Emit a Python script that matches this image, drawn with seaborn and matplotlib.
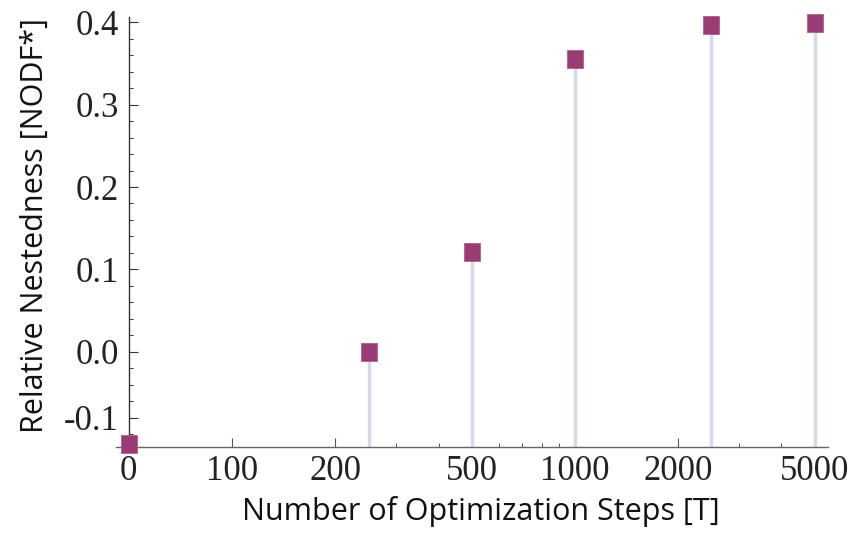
import numpy as np
import pandas as pd
import matplotlib
matplotlib.use("Agg")
import matplotlib.pyplot as plt
import seaborn as sns

# Optimization steps (the "0" run is drawn at 50 so it sits on the log axis)
steps = [50, 250, 500, 1000, 2500, 5000]
nestedness = [-0.1118, -0.0006, 0.121, 0.355, 0.3973, 0.3990]

x_ticks = [50, 100, 200, 500, 1000, 2000, 5000]
x_tick_labels = ["0", "100", "200", "500", "1000", "2000", "5000"]
x_minor = [300, 400, 600, 700, 800, 900, 3000, 4000]

y_ticks = [-0.08, 0.0, 0.1, 0.2, 0.3, 0.4]
y_tick_labels = ["-0.1", "0.0", "0.1", "0.2", "0.3", "0.4"]
y_minor = [-0.10, -0.06, -0.04, -0.02, 0.02, 0.04, 0.06, 0.08,
           0.12, 0.14, 0.16, 0.18, 0.22, 0.24, 0.26, 0.28,
           0.32, 0.34, 0.36, 0.38]

df = pd.DataFrame({"steps": steps, "nestedness": nestedness})

sns.set_theme(style="ticks")
plt.rcParams["font.family"] = ["DejaVu Sans"]

fig = plt.figure(figsize=(8.52, 5.34), dpi=100)
ax = fig.add_axes([0.1362, 0.1635, 0.9718 - 0.1362, 0.9682 - 0.1635])

ax.set_xscale("log")
x_lo, x_hi = 45.9, 5465
y_lo, y_hi = -0.1154, 0.4065
ax.set_xlim(x_lo, x_hi)
ax.set_ylim(y_lo, y_hi)

marker_color = "#993c73"
stem_color = "#d7d7ea"

# stems from the baseline up to each value
ax.vlines(df["steps"], y_lo, df["nestedness"], color=stem_color, lw=2.4, zorder=2)

rect = [(-0.86, -1), (0.86, -1), (0.86, 1), (-0.86, 1), (-0.86, -1)]
sns.scatterplot(data=df, x="steps", y="nestedness", ax=ax, marker=rect, s=13.5**2,
                color=marker_color, edgecolor="#b45c90", linewidth=0.6,
                zorder=4, clip_on=False, legend=False)

# axes: y axis crosses at the "0" position, x axis along the bottom
for s in ("top", "right"):
    ax.spines[s].set_visible(False)
ax.spines["left"].set_position(("data", 50))
ax.spines["left"].set_bounds(y_lo, y_hi)
ax.spines["left"].set_color("#333333")
ax.spines["bottom"].set_color("#666666")
ax.spines["left"].set_linewidth(1.0)
ax.spines["bottom"].set_linewidth(1.0)
ax.spines["left"].set_zorder(3)

ax.set_xticks(x_ticks)
ax.set_xticklabels(x_tick_labels)
ax.set_xticks(x_minor, minor=True)
ax.xaxis.set_minor_formatter(plt.NullFormatter())
ax.set_yticks(y_ticks)
ax.set_yticklabels(y_tick_labels)
ax.set_yticks(y_minor, minor=True)

for lab in ax.get_xticklabels() + ax.get_yticklabels():
    lab.set_fontfamily("Liberation Serif")
    lab.set_fontsize(25)
    lab.set_color("#222222")

ax.tick_params(axis="both", which="major", direction="in", length=6.5, width=0.8,
               color="#333333")
ax.tick_params(axis="both", which="minor", direction="in", length=3.2, width=0.7,
               color="#333333")
ax.tick_params(axis="x", which="major", pad=6, color="#555555")
ax.tick_params(axis="x", which="minor", color="#555555")
ax.tick_params(axis="y", which="major", pad=7)

ax.set_xlabel("Number of Optimization Steps [T]", fontfamily="Open Sans",
              fontsize=22, color="#111111", labelpad=6)
ax.set_ylabel("Relative Nestedness [NODF*]", fontfamily="Open Sans",
              fontsize=22, color="#111111", labelpad=10)
ax.xaxis.label.set_x(0.513)
ax.yaxis.label.set_y(0.515)

fig.savefig("out.png", dpi=100, facecolor="white")
